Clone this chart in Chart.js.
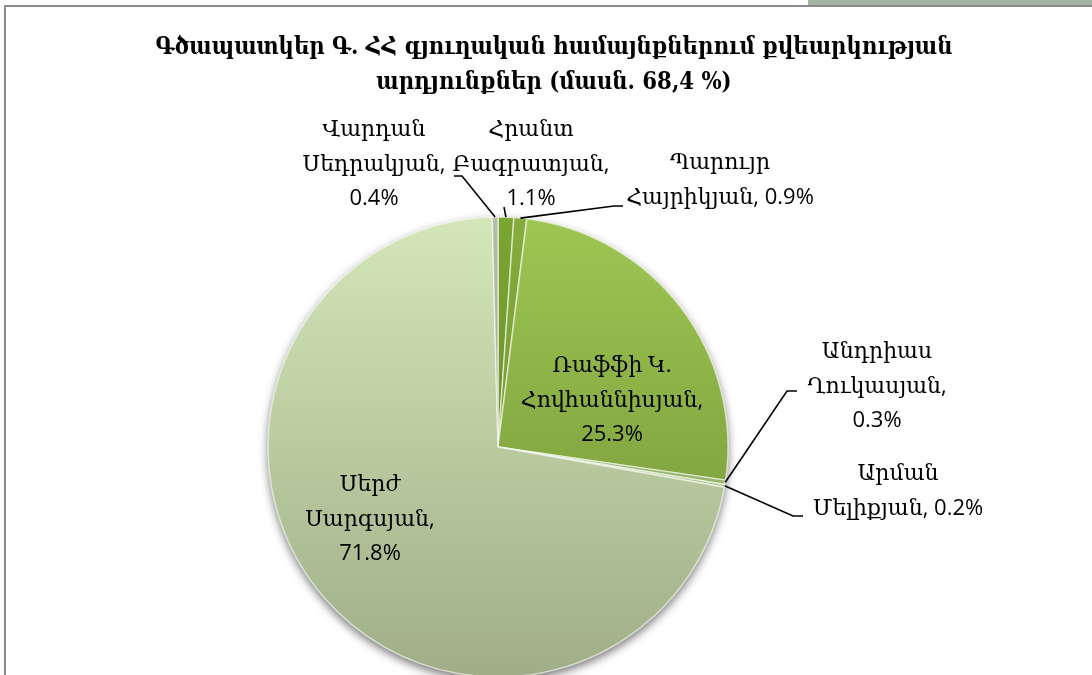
<!DOCTYPE html>
<html lang="hy">
<head>
<meta charset="utf-8">
<title>Քվեարկության արդյունքներ</title>
<script src="https://cdn.jsdelivr.net/npm/chart.js@4.4.1/dist/chart.umd.min.js"></script>
<style>
html, body { margin:0; padding:0; width:1092px; height:675px; overflow:hidden; background:#fff; }
#bar { position:absolute; left:808px; top:0; width:284px; height:5px; background:#a5b5a5; }
#frame { position:absolute; left:4px; top:5px; width:1120px; height:700px; border-top:2px solid #8c8c8c; border-left:2px solid #8c8c8c; }
#title { position:absolute; left:4px; width:1100px; top:29px; text-align:center; font:bold 23.6px/35px 'DejaVu Serif Condensed', 'DejaVu Serif', serif; color:#000; }
#grafico { position:absolute; left:0; top:0; }
</style>
</head>
<body>
<div id="bar"></div>
<div id="frame"></div>
<canvas id="grafico" width="1092" height="894"></canvas>
<div id="title">Գծապատկեր Գ. ՀՀ գյուղական համայնքներում քվեարկության<br>արդյունքներ (մասն. 68,4 %)</div>
<script>
// Թեկնածուները՝ ժամսլաքի ուղղությամբ, վերևից սկսած
const candidates = [
  "Հրանտ\nԲագրատյան",
  "Պարույր\nՀայրիկյան",
  "Ռաֆֆի Կ.\nՀովհաննիսյան",
  "Անդրիաս\nՂուկասյան",
  "Արման\nՄելիքյան",
  "Սերժ\nՍարգսյան",
  "Վարդան\nՍեդրակյան"
];
const percents = [1.1, 0.9, 25.3, 0.3, 0.2, 71.8, 0.4];

// Գույներ (վերև / ներքև)
const colorsTop = ["#7ba531", "#86ad3c", "#9ec653", "#a9c878", "#c3dc9a", "#d4e7b8", "#b4bca8"];
const colorsBottom = ["#5e8224", "#66882c", "#6e9034", "#8aa860", "#9fb57c", "#9fae87", "#8e9684"];

const radio = 230;

// Պիտակների դիրքերը կենտրոնից (x, առաջին տողի y), արժեքի բաժանիչը, ցուցիչ գիծը
const labelPos = [
  { x: 33,   y: -317, sep: "\n", line: [[6, -240]] },
  { x: 222,  y: -284, sep: " ",  line: [[116, -241], [125, -241]] },
  { x: 114,  y: -81,  sep: "\n", line: null },
  { x: 379,  y: -95,  sep: "\n", line: [[289, -56], [299, -56]] },
  { x: 400,  y: 27,   sep: " ",  line: [[295, 69], [305, 69]] },
  { x: -128, y: 38,   sep: "\n", line: null },
  { x: -124, y: -317, sep: "\n", line: [[-36, -271], [-44, -271]] }
];

const etiquetas = {
  id: 'etiquetas',
  beforeDatasetsDraw(chart) {
    // ստվեր շրջանի տակ
    const arc = chart.getDatasetMeta(0).data[0];
    const ctx = chart.ctx;
    ctx.save();
    ctx.shadowColor = 'rgba(0,0,0,0.55)';
    ctx.shadowBlur = 10;
    ctx.shadowOffsetY = 4;
    ctx.beginPath();
    ctx.arc(arc.x, arc.y, arc.outerRadius, 0, Math.PI * 2);
    ctx.fillStyle = '#a0b088';
    ctx.fill();
    ctx.restore();
  },
  afterDatasetsDraw(chart) {
    const ctx = chart.ctx;
    const meta = chart.getDatasetMeta(0);
    ctx.save();
    ctx.font = "22px 'Open Sans', 'DejaVu Serif', sans-serif";
    ctx.fillStyle = '#000';
    ctx.strokeStyle = '#000';
    ctx.lineWidth = 1.6;
    ctx.textAlign = 'center';
    ctx.textBaseline = 'middle';
    meta.data.forEach((arc, i) => {
      const p = labelPos[i];
      const mid = (arc.startAngle + arc.endAngle) / 2;
      if (p.line) {
        ctx.beginPath();
        ctx.moveTo(arc.x + Math.cos(mid) * arc.outerRadius, arc.y + Math.sin(mid) * arc.outerRadius);
        p.line.forEach(([dx, dy]) => ctx.lineTo(arc.x + dx, arc.y + dy));
        ctx.stroke();
      }
      const text = candidates[i] + "," + p.sep + percents[i].toFixed(1) + "%";
      text.split("\n").forEach((l, k) => {
        ctx.fillText(l, arc.x + p.x, arc.y + p.y + k * 34.5);
      });
    });
    ctx.restore();
  }
};

new Chart(document.getElementById("grafico"), {
  type: "pie",
  data: {
    labels: candidates,
    datasets: [{
      data: percents,
      backgroundColor: (c) => {
        const area = c.chart.chartArea;
        if (!area) return colorsTop[c.dataIndex];
        const cy = (area.top + area.bottom) / 2;
        const g = c.chart.ctx.createLinearGradient(0, cy - radio, 0, cy + radio);
        g.addColorStop(0, colorsTop[c.dataIndex]);
        g.addColorStop(1, colorsBottom[c.dataIndex]);
        return g;
      },
      borderColor: 'rgba(255,255,255,0.6)',
      borderWidth: 1.5
    }]
  },
  options: {
    responsive: false,
    animation: false,
    radius: radio,
    layout: { padding: { left: 0, right: 96, top: 0, bottom: 0 } },
    plugins: {
      legend: { display: false },
      tooltip: { enabled: false }
    }
  },
  plugins: [etiquetas]
});
</script>
</body>
</html>
